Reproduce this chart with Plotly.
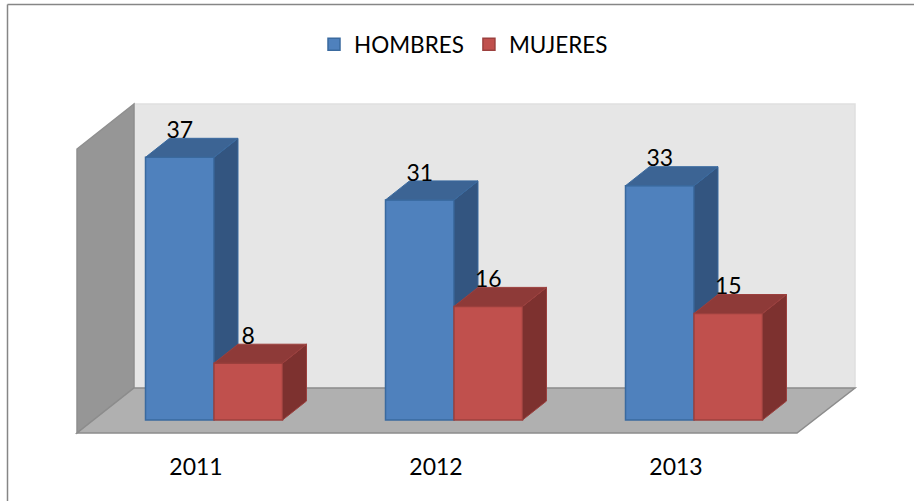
import plotly.graph_objects as go

years = ["2011", "2012", "2013"]
hombres = [37, 31, 33]
mujeres = [8, 16, 15]

W, H = 914, 501
FLOOR_PX = 433
ZERO_PX = 420
PX_PER_UNIT = 7.1
CAT_PX = 240
CAT0_PX = 214
FONT = "Lato"
FS = 23

BAR_W = 68.5 / CAT_PX
DX = 24 / CAT_PX
DY = 19 / PX_PER_UNIT
LABEL_UP = 25 / PX_PER_UNIT
TICK_SHIFT = -18 / CAT_PX


def paper(px, py):
    return px / W, (FLOOR_PX - py) / FLOOR_PX


def path(points):
    pts = [paper(*p) for p in points]
    return "M " + " L ".join(f"{x:.5f},{y:.5f}" for x, y in pts) + " Z"


def faces(values, offset):
    side_x, side_y, top_x, top_y = [], [], [], []
    for i, v in enumerate(values):
        l = i + offset
        r = l + BAR_W
        side_x += [r, r + DX, r + DX, r, r, None]
        side_y += [0, DY, v + DY, v, 0, None]
        top_x += [l, l + DX, r + DX, r, l, None]
        top_y += [v, v + DY, v + DY, v, v, None]
    return side_x, side_y, top_x, top_y


def add_series(fig, name, values, offset, front, edge, top, side, xa, ya):
    xs = list(range(len(values)))
    fig.add_trace(go.Bar(name=name, x=xs, y=values, width=BAR_W, offset=offset,
                         marker=dict(color=front, line=dict(color=edge, width=1.5)),
                         xaxis=xa, yaxis=ya))
    sx, sy, tx, ty = faces(values, offset)
    for fx, fy, col in ((sx, sy, side), (tx, ty, top)):
        fig.add_trace(go.Scatter(x=fx, y=fy, mode="lines", fill="toself", fillcolor=col,
                                 line=dict(color=edge, width=1), showlegend=False,
                                 hoverinfo="skip", xaxis=xa, yaxis=ya))


fig = go.Figure()
add_series(fig, "HOMBRES", hombres, -BAR_W, "#4F81BD", "#3A6A9F", "#3C6494", "#335580", "x", "y")
add_series(fig, "MUJERES", mujeres, 0, "#C0504D", "#9C403E", "#8E3A38", "#7D312F", "x2", "y2")

lab_x = [i - BAR_W / 2 for i in range(3)] + [i + BAR_W / 2 for i in range(3)]
vals = hombres + mujeres
fig.add_trace(go.Scatter(x=lab_x, y=[v + LABEL_UP for v in vals], text=[str(v) for v in vals],
                         mode="text", textposition="middle center", showlegend=False,
                         textfont=dict(family=FONT, size=FS, color="#000000"),
                         hoverinfo="skip", xaxis="x2", yaxis="y2"))

x_range = [-CAT0_PX / CAT_PX, (W - CAT0_PX) / CAT_PX]
y_range = [-(FLOOR_PX - ZERO_PX) / PX_PER_UNIT, ZERO_PX / PX_PER_UNIT]

walls = [
    ([(134, 104), (855, 104), (855, 388), (134, 388)], "#E6E6E6", "#E0E0E0"),
    ([(77, 149), (134, 104), (134, 388), (77, 433)], "#969696", "#8F8F8F"),
    ([(77, 433), (134, 388), (855, 388), (797, 433)], "#B0B0B0", "#8C8C8C"),
]
shapes = [dict(type="path", xref="paper", yref="paper", path=path(p), fillcolor=c,
               line=dict(color=lc, width=1.5), layer="below") for p, c, lc in walls]
for p0, p1 in (((7.5, 4.5), (914, 4.5)), ((7.5, 4.5), (7.5, 501))):
    a, b = paper(*p0), paper(*p1)
    shapes.append(dict(type="line", xref="paper", yref="paper", x0=a[0], y0=a[1], x1=b[0], y1=b[1],
                       line=dict(color="#868686", width=1.5), layer="below"))

fig.update_layout(
    width=W, height=H, margin=dict(l=0, r=0, t=0, b=H - FLOOR_PX),
    paper_bgcolor="#FFFFFF", plot_bgcolor="rgba(0,0,0,0)",
    barmode="overlay", shapes=shapes,
    font=dict(family=FONT, size=FS, color="#000000"),
    xaxis=dict(range=x_range, tickmode="array", tickvals=[i + TICK_SHIFT for i in range(3)],
               ticktext=years, showgrid=False, zeroline=False, showline=False, ticks="",
               ticklabelstandoff=18, tickfont=dict(family=FONT, size=FS, color="#000000")),
    yaxis=dict(range=y_range, visible=False),
    xaxis2=dict(range=x_range, overlaying="x", visible=False, anchor="y2"),
    yaxis2=dict(range=y_range, overlaying="y", visible=False, anchor="x2"),
    legend=dict(orientation="h", x=314 / W, y=1 - 23 / FLOOR_PX, xanchor="left", yanchor="top",
                bgcolor="rgba(0,0,0,0)", font=dict(family=FONT, size=22.5, color="#000000")),
    showlegend=True,
)
fig.write_html(
    "out.html",
    config=dict(displayModeBar=False),
    post_script="document.body.style.margin='0';document.documentElement.style.overflow='hidden';",
)
